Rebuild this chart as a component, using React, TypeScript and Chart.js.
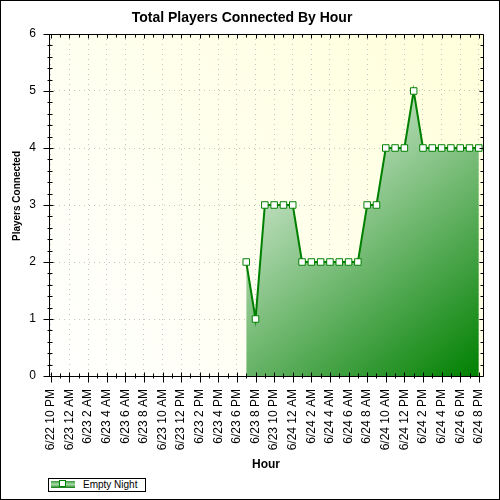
import React, { useEffect, useRef } from 'react';
import { Chart, registerables } from 'chart.js';
Chart.register(...registerables);

const tickLabels = [
  '6/22 10 PM', '6/23 12 AM', '6/23 2 AM', '6/23 4 AM', '6/23 6 AM', '6/23 8 AM',
  '6/23 10 AM', '6/23 12 PM', '6/23 2 PM', '6/23 4 PM', '6/23 6 PM', '6/23 8 PM',
  '6/23 10 PM', '6/24 12 AM', '6/24 2 AM', '6/24 4 AM', '6/24 6 AM', '6/24 8 AM',
  '6/24 10 AM', '6/24 12 PM', '6/24 2 PM', '6/24 4 PM', '6/24 6 PM', '6/24 8 PM',
];
// hours after 6/22 10 PM of the first sample (6/23 7 PM)
const startHour = 21;
const players = [2, 1, 3, 3, 3, 3, 2, 2, 2, 2, 2, 2, 2, 3, 3, 4, 4, 4, 5, 4, 4, 4, 4, 4, 4, 4];
const seriesName = 'Empty Night';
const chartTitle = 'Total Players Connected By Hour';
const xTitle = 'Hour';
const yTitle = 'Players Connected';
const yMin = 0;
const yMax = 6;
const xMin = -0.2;
const xMax = 46.45;

const FONT = "'Liberation Sans', Arial, sans-serif";
const GREEN = '#008000';

const isInt = (v: number) => Math.abs(v - Math.round(v)) < 1e-6;

const framePlugin = {
  id: 'frame',
  beforeDraw(chart: any) {
    const { ctx, chartArea: a } = chart;
    const g = ctx.createLinearGradient(a.left, a.bottom, a.right, a.top);
    g.addColorStop(0, '#ffffff');
    g.addColorStop(1, '#ffffda');
    ctx.save();
    ctx.fillStyle = g;
    ctx.fillRect(a.left, a.top, a.right - a.left, a.bottom - a.top);
    ctx.restore();
  },
  afterDraw(chart: any) {
    const { ctx, chartArea: a, scales } = chart;
    const L = Math.round(a.left) + 0.5;
    const R = Math.round(a.right) + 0.5;
    const T = Math.round(a.top) + 0.5;
    const B = Math.round(a.bottom) + 0.5;
    ctx.save();
    ctx.strokeStyle = '#000';
    ctx.lineWidth = 1;
    ctx.beginPath();
    ctx.rect(L, T, R - L, B - T);
    scales.x.ticks.forEach((t: any) => {
      if (!isInt(t.value)) return;
      const px = Math.round(scales.x.getPixelForValue(t.value)) + 0.5;
      const major = Math.round(t.value) % 2 === 0;
      ctx.moveTo(px, B - (major ? 4 : 3));
      ctx.lineTo(px, B + (major ? 6 : 2));
      ctx.moveTo(px, T);
      ctx.lineTo(px, T + (major ? 4 : 3));
    });
    scales.y.ticks.forEach((t: any) => {
      const py = Math.round(scales.y.getPixelForValue(t.value)) + 0.5;
      const major = isInt(t.value);
      ctx.moveTo(L - (major ? 6 : 2), py);
      ctx.lineTo(L + (major ? 4 : 3), py);
      ctx.moveTo(R, py);
      ctx.lineTo(R - (major ? 4 : 3), py);
    });
    ctx.stroke();
    ctx.fillStyle = '#000';
    ctx.font = `bold 10px ${FONT}`;
    ctx.textAlign = 'center';
    ctx.textBaseline = 'middle';
    ctx.translate(16.5, 195);
    ctx.rotate(-Math.PI / 2);
    ctx.fillText(yTitle, 0, 0);
    ctx.restore();
  },
};

export default function App() {
  const ref = useRef<HTMLCanvasElement | null>(null);

  useEffect(() => {
    if (!ref.current) return;
    const chart = new Chart(ref.current, {
      type: 'line',
      data: {
        datasets: [
          {
            label: seriesName,
            data: players.map((v, i) => ({ x: startHour + i, y: v })),
            borderColor: GREEN,
            borderWidth: 2,
            tension: 0,
            fill: 'start',
            backgroundColor: (c: any) => {
              const chart = c.chart;
              const a = chart.chartArea;
              const xs = chart.scales.x;
              const ys = chart.scales.y;
              if (!a || !xs || !ys) return 'rgba(0,128,0,0.5)';
              const x0 = xs.getPixelForValue(startHour);
              const x1 = xs.getPixelForValue(startHour + players.length - 1);
              const y0 = ys.getPixelForValue(Math.max(...players));
              const y1 = a.bottom;
              const g = chart.ctx.createLinearGradient(x0, y0, x1, y1);
              g.addColorStop(0, '#ffffff');
              g.addColorStop(1, GREEN);
              return g;
            },
            pointStyle: 'rect',
            pointRadius: 4.6,
            pointHoverRadius: 4.6,
            pointBackgroundColor: '#ffffff',
            pointBorderColor: GREEN,
            pointBorderWidth: 1,
          } as any,
        ],
      },
      options: {
        responsive: false,
        animation: false,
        events: [],
        layout: { padding: { left: 0, right: 16, top: 0, bottom: 23 } },
        plugins: {
          legend: { display: false },
          tooltip: { enabled: false },
          title: {
            display: true,
            text: chartTitle,
            color: '#000',
            font: { family: FONT, size: 14, weight: 'bold' },
            padding: { top: 9, bottom: 7.2 },
          },
        },
        scales: {
          x: {
            type: 'linear',
            min: xMin,
            max: xMax,
            afterFit: (s: any) => {
              s.height = 100;
              s.paddingLeft = 0;
              s.paddingRight = 0;
            },
            border: { display: false, dash: [1, 4] },
            grid: {
              drawTicks: false,
              color: (c: any) =>
                c.tick && isInt(c.tick.value) && Math.round(c.tick.value) % 2 === 0
                  ? '#c4c4c4'
                  : 'rgba(0,0,0,0)',
              lineWidth: 1,
            },
            ticks: {
              stepSize: 1,
              autoSkip: false,
              includeBounds: false,
              maxRotation: 90,
              minRotation: 90,
              padding: 13,
              color: '#000',
              font: { family: FONT, size: 12 },
              callback: (v: any) => {
                const n = Number(v);
                if (!isInt(n)) return '';
                const h = Math.round(n);
                if (h % 2 !== 0 || h < 0) return '';
                return tickLabels[h / 2] ?? '';
              },
            },
            title: {
              display: true,
              text: xTitle,
              color: '#000',
              font: { family: FONT, size: 12, weight: 'bold' },
              padding: { top: 4, bottom: 4 },
            },
          },
          y: {
            min: yMin,
            max: yMax,
            afterFit: (s: any) => {
              s.width = 48;
              s.paddingTop = 0;
              s.paddingBottom = 0;
            },
            border: { display: false, dash: [1, 4] },
            grid: {
              drawTicks: false,
              color: (c: any) =>
                c.tick && isInt(c.tick.value) && c.tick.value > yMin && c.tick.value < yMax
                  ? '#c4c4c4'
                  : 'rgba(0,0,0,0)',
            },
            ticks: {
              stepSize: 0.2,
              autoSkip: false,
              padding: 13,
              color: '#000',
              font: { family: FONT, size: 12 },
              callback: (v: any) => (isInt(Number(v)) ? String(Math.round(Number(v))) : ''),
            },
            title: { display: false },
          },
        },
      },
      plugins: [framePlugin],
    } as any);
    return () => chart.destroy();
  }, []);

  return (
    <div
      style={{
        position: 'absolute',
        left: 0,
        top: 0,
        width: 500,
        height: 500,
        border: '1px solid #000',
        boxSizing: 'border-box',
        background: '#fff',
        fontFamily: FONT,
      }}
    >
      <canvas ref={ref} width={498} height={498} style={{ position: 'absolute', left: 0, top: 0 }} />
      <div
        style={{
          position: 'absolute',
          left: 47,
          top: 477,
          width: 98,
          height: 14,
          border: '1px solid #000',
          boxSizing: 'border-box',
          background: '#fff',
        }}
      >
        <div
          style={{
            position: 'absolute',
            left: 2,
            top: 2,
            width: 24,
            height: 7,
            background: 'linear-gradient(to bottom, #3a9a3a 0%, #9fd59f 45%, #9fd59f 55%, #107810 100%)',
          }}
        />
        <div
          style={{
            position: 'absolute',
            left: 10,
            top: 1,
            width: 7,
            height: 7,
            border: '1px solid #008000',
            background: '#fff',
            boxSizing: 'border-box',
          }}
        />
        <div
          style={{
            position: 'absolute',
            left: 34,
            top: 0,
            fontSize: 10,
            lineHeight: '12px',
            color: '#000',
            whiteSpace: 'nowrap',
          }}
        >
          {seriesName}
        </div>
      </div>
    </div>
  );
}
